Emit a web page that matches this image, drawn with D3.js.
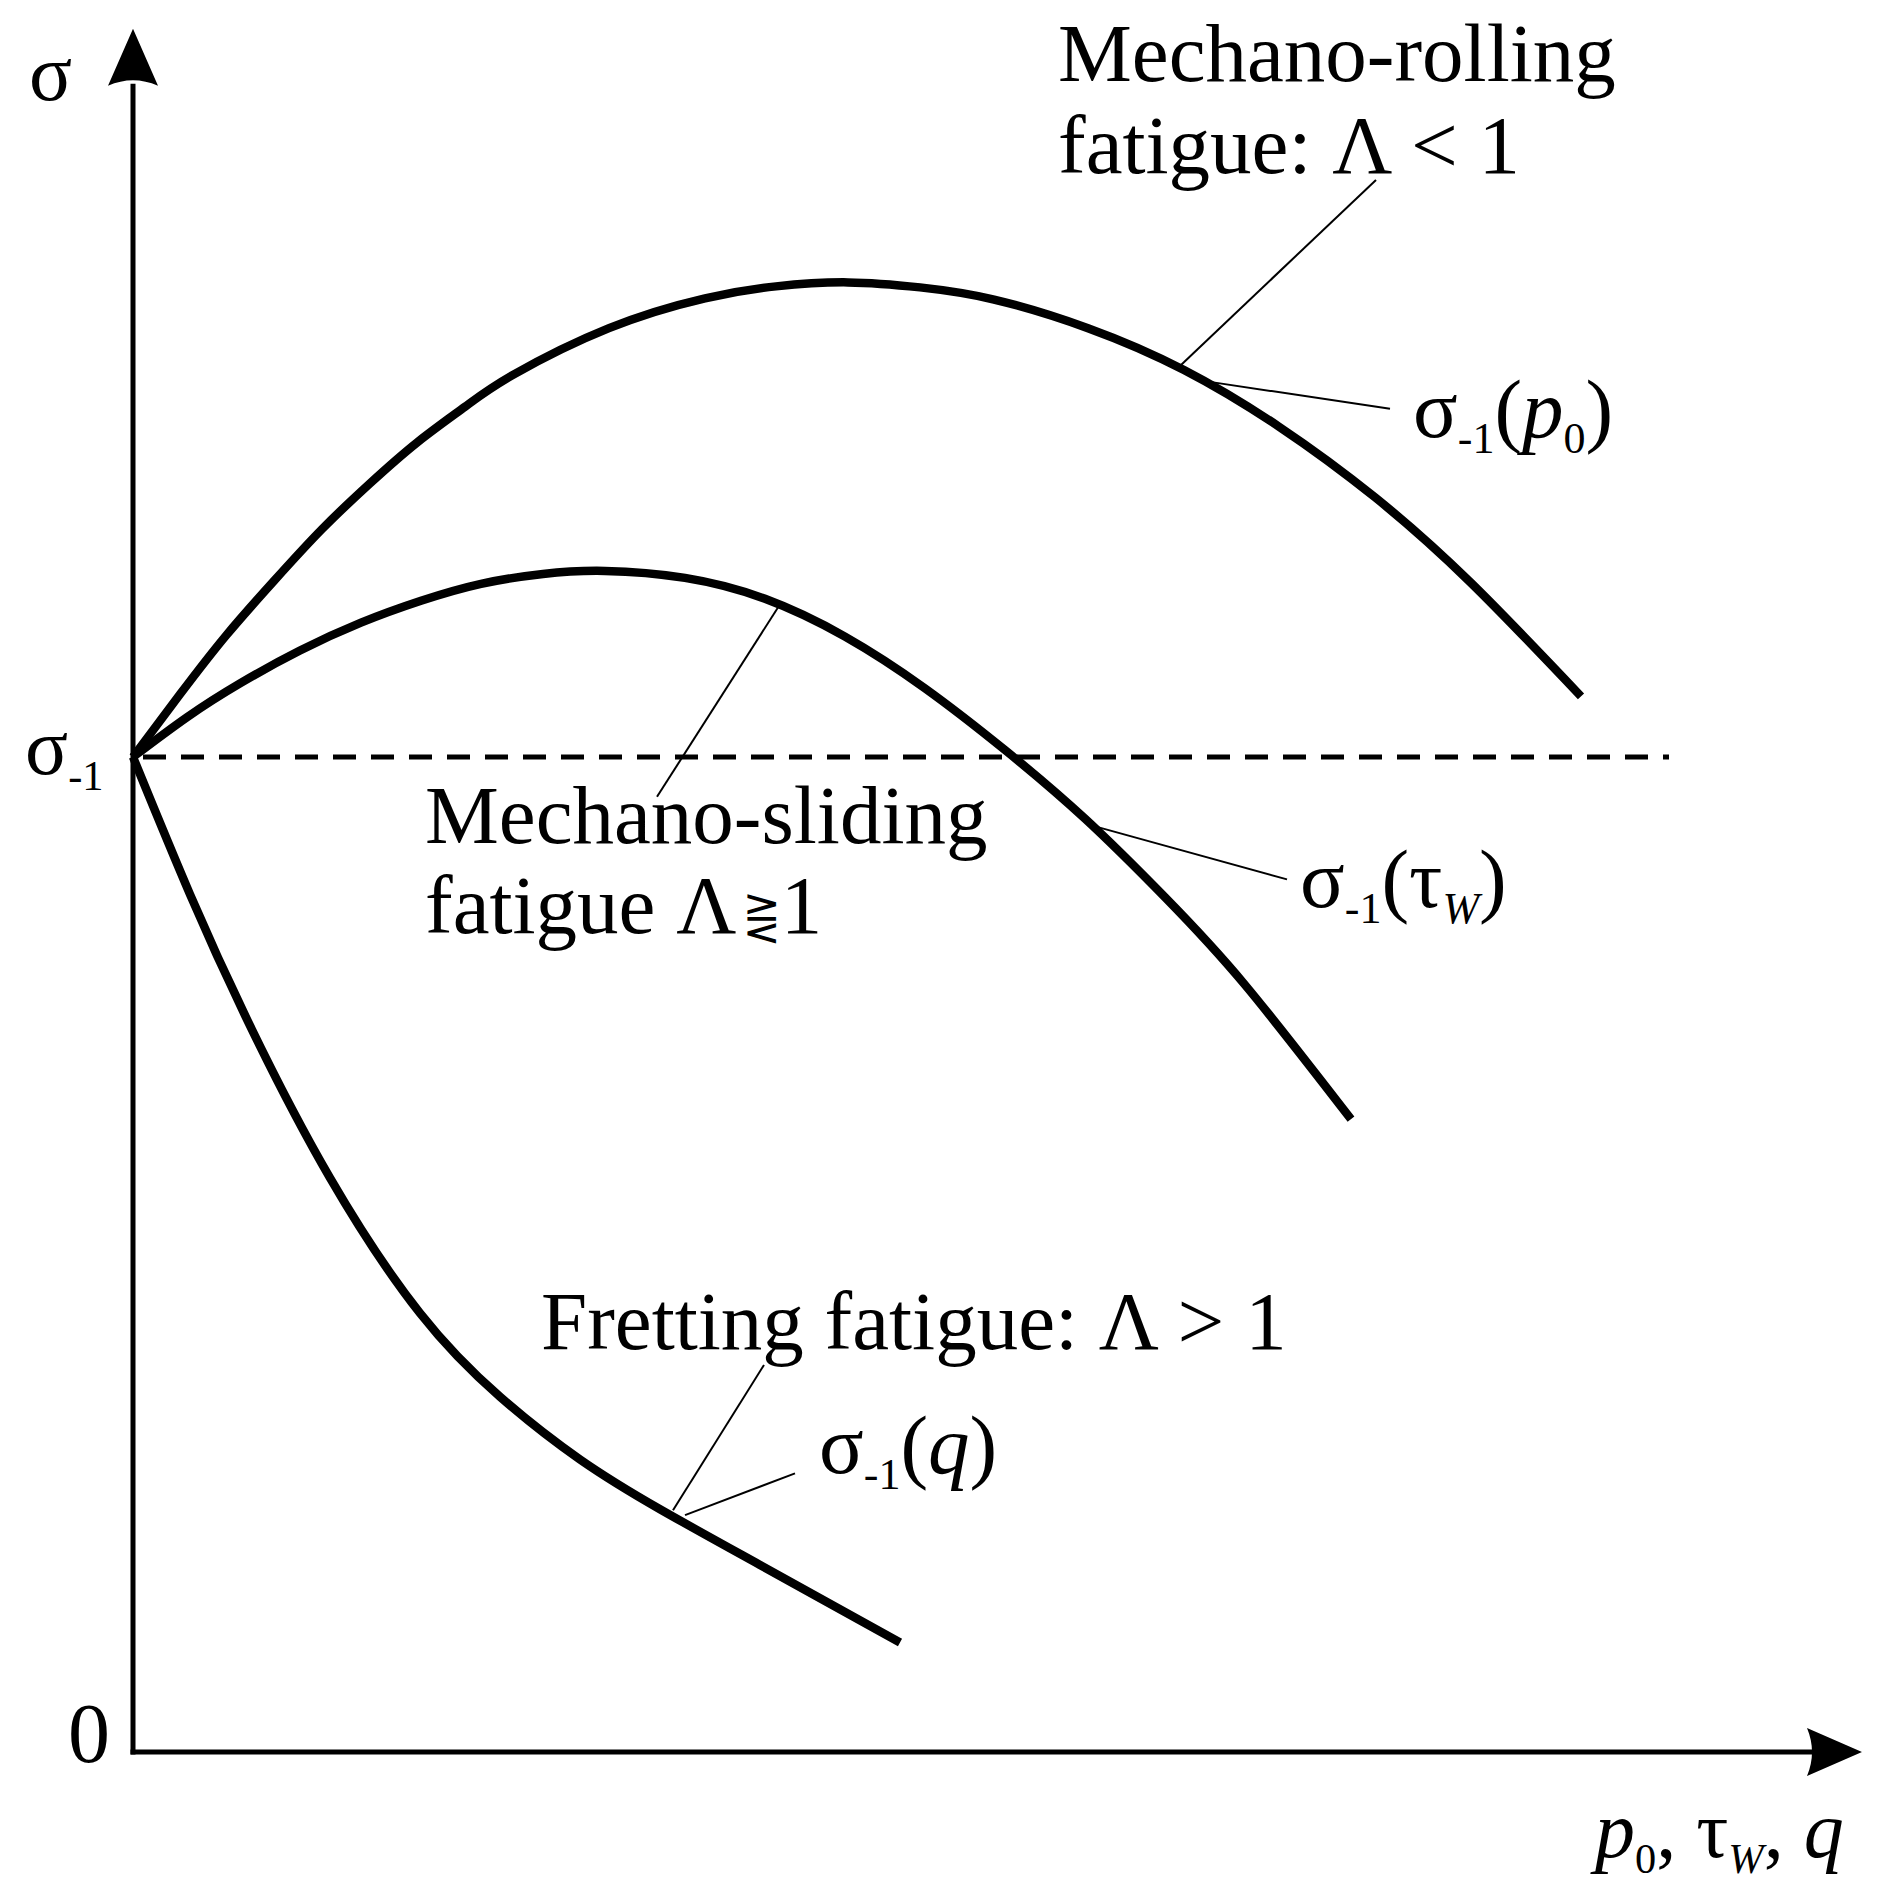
<!DOCTYPE html>
<html>
<head>
<meta charset="utf-8">
<script src="https://cdn.jsdelivr.net/npm/d3@7"></script>
<style>
  html, body { margin: 0; padding: 0; background: #fff; }
  svg { display: block; }
  text { font-family: "Liberation Serif", "Times New Roman", "DejaVu Serif", serif; fill: #000; }
</style>
</head>
<body>
<svg id="chart" width="1883" height="1886"></svg>
<script>
// ---------------- data (units: x arbitrary load, sigma relative to sigma_-1) ----------------
const xRolling     = [0, 0.047, 0.093, 0.141, 0.189, 0.237, 0.284, 0.332, 0.380, 0.476, 0.572, 0.643, 0.715, 0.787, 0.860, 0.955, 1.051, 1.146, 1.242, 1.338, 1.448];
const sigmaRolling = [1.000, 1.063, 1.122, 1.177, 1.229, 1.275, 1.316, 1.352, 1.384, 1.431, 1.461, 1.473, 1.477, 1.472, 1.460, 1.431, 1.389, 1.332, 1.261, 1.175, 1.061];

const xSliding     = [0, 0.054, 0.107, 0.167, 0.228, 0.288, 0.348, 0.410, 0.472, 0.552, 0.632, 0.712, 0.792, 0.872, 0.952, 1.032, 1.112, 1.218];
const sigmaSliding = [1.000, 1.040, 1.074, 1.107, 1.135, 1.157, 1.174, 1.184, 1.187, 1.180, 1.159, 1.121, 1.069, 1.007, 0.938, 0.859, 0.771, 0.636];

const xFretting     = [0, 0.057, 0.117, 0.197, 0.287, 0.367, 0.447, 0.527, 0.627, 0.767];
const sigmaFretting = [1.000, 0.862, 0.730, 0.577, 0.441, 0.357, 0.294, 0.244, 0.188, 0.110];

const fatigueLimit = 1.0;           // sigma_-1 (dashed reference)
const fatigueLimitEnd = 1.536;      // x extent of dashed line
const yTickValues = [0, 1];
const yTickLabels = [[{t: "0"}], [{t: "σ"}, {t: "-1", sub: true}]];
const yAxisTop = 1.732;
const xAxisEnd = 1.729;

const yAxisTitle = [{t: "σ"}];
const xAxisTitle = [{t: "p", it: true}, {t: "0", sub: true}, {t: ", τ"}, {t: "W", sub: true, it: true}, {t: ", "}, {t: "q", it: true}];

// annotations: text lines (anchor in data units) and leader lines
const annotations = [
  {x: 0.925, y: 1.679, parts: [{t: "Mechano-rolling"}]},
  {x: 0.925, y: 1.587, parts: [{t: "fatigue: Λ < 1"}]},
  {x: 1.280, y: 1.322, parts: [{t: "σ"}, {t: "-1", sub: true}, {t: "("}, {t: "p", it: true}, {t: "0", sub: true}, {t: ")"}]},
  {x: 0.292, y: 0.914, parts: [{t: "Mechano-sliding"}]},
  {x: 0.292, y: 0.823, parts: [{t: "fatigue Λ"}, {t: "⋛", small: true}, {t: "1"}]},
  {x: 1.167, y: 0.849, parts: [{t: "σ"}, {t: "-1", sub: true}, {t: "(τ"}, {t: "W", sub: true, it: true}, {t: ")"}]},
  {x: 0.408, y: 0.405, parts: [{t: "Fretting fatigue: Λ > 1"}]},
  {x: 0.686, y: 0.280, parts: [{t: "σ"}, {t: "-1", sub: true}, {t: "("}, {t: "q", it: true}, {t: ")"}]}
];
const leaders = [
  [[1.243, 1.580], [1.048, 1.394]],
  [[1.077, 1.377], [1.257, 1.350]],
  [[0.648, 1.155], [0.524, 0.960]],
  [[0.963, 0.930], [1.154, 0.877]],
  [[0.631, 0.389], [0.540, 0.243]],
  [[0.552, 0.238], [0.662, 0.280]]
];

// ---------------- drawing ----------------
const svg = d3.select("#chart");
const x = d3.scaleLinear().domain([0, 1]).range([133, 1133]);
const y = d3.scaleLinear().domain([0, 1]).range([1752, 757]);

const FS = 83, SUB = 44, SUBDY = 16;

function richText(g, px, py, parts, size) {
  size = size || FS;
  const t = g.append("text").attr("x", px).attr("y", py).attr("font-size", size);
  let shifted = 0;
  parts.forEach(p => {
    const ts = t.append("tspan").text(p.t);
    if (p.sub) {
      ts.attr("font-size", SUB * size / FS);
      const d = SUBDY - shifted; if (d) ts.attr("dy", d); shifted = SUBDY;
    } else {
      if (shifted) { ts.attr("dy", -shifted); shifted = 0; }
      if (p.small) ts.attr("font-size", size * 0.55).attr("font-family", "DejaVu Sans").attr("dx", 6);
    }
    if (p.it) ts.attr("font-style", "italic");
  });
  return t;
}

// dashed fatigue limit line
svg.append("line")
  .attr("x1", x(0)).attr("x2", x(fatigueLimitEnd))
  .attr("y1", y(fatigueLimit)).attr("y2", y(fatigueLimit))
  .attr("stroke", "#000").attr("stroke-width", 5)
  .attr("stroke-dasharray", "23,15").attr("stroke-dashoffset", -10);

// axes
const axisG = svg.append("g");
axisG.append("line").attr("x1", x(0)).attr("x2", x(0)).attr("y1", y(0) + 2.5).attr("y2", y(yAxisTop) + 55)
  .attr("stroke", "#000").attr("stroke-width", 5);
axisG.append("line").attr("x1", x(0) - 2.5).attr("x2", x(xAxisEnd) - 50).attr("y1", y(0)).attr("y2", y(0))
  .attr("stroke", "#000").attr("stroke-width", 5);
// arrowheads
const tx = x(0), ty = y(yAxisTop);
axisG.append("path")
  .attr("d", `M${tx},${ty} L${tx + 25},${ty + 57} Q${tx},${ty + 46} ${tx - 25},${ty + 57} Z`)
  .attr("fill", "#000");
const ax = x(xAxisEnd), ay = y(0);
axisG.append("path")
  .attr("d", `M${ax},${ay} L${ax - 55},${ay - 24} Q${ax - 45},${ay} ${ax - 55},${ay + 24} Z`)
  .attr("fill", "#000");

// tick labels
const tickOffsets = [[-65, 10], [-108, 17]];
yTickValues.forEach((v, i) => {
  richText(svg, x(0) + tickOffsets[i][0], y(v) + tickOffsets[i][1], yTickLabels[i], i === 0 ? 84 : 80);
});
richText(svg, x(0) - 104, y(yAxisTop) + 71, yAxisTitle, 80);
richText(svg, x(xAxisEnd) - 267, y(0) + 105, xAxisTitle, 80);

// curves
const line = d3.line().x(d => x(d[0])).y(d => y(d[1])).curve(d3.curveNatural);
const series = [
  d3.zip(xRolling, sigmaRolling),
  d3.zip(xSliding, sigmaSliding),
  d3.zip(xFretting, sigmaFretting)
];
svg.append("g").selectAll("path").data(series).join("path")
  .attr("d", line).attr("fill", "none").attr("stroke", "#000")
  .attr("stroke-width", 8.5).attr("stroke-linejoin", "round");

// leaders
svg.append("g").selectAll("line").data(leaders).join("line")
  .attr("x1", d => x(d[0][0])).attr("y1", d => y(d[0][1]))
  .attr("x2", d => x(d[1][0])).attr("y2", d => y(d[1][1]))
  .attr("stroke", "#000").attr("stroke-width", 2);

// annotation texts
const annG = svg.append("g");
annotations.forEach(a => richText(annG, x(a.x), y(a.y), a.parts));
</script>
</body>
</html>
